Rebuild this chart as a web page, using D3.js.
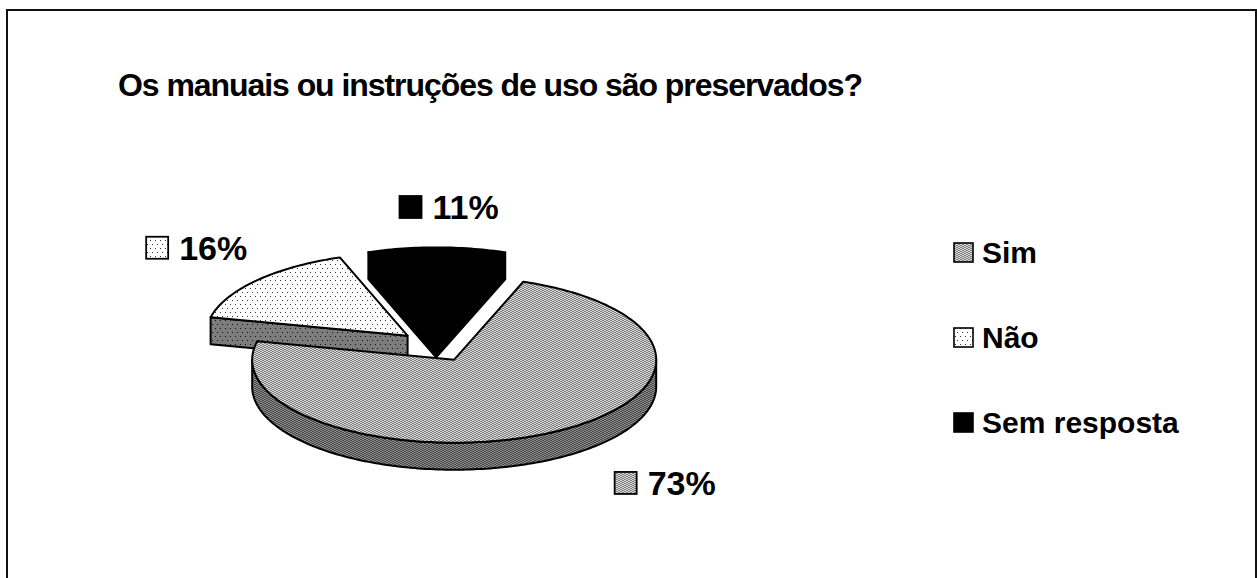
<!DOCTYPE html>
<html><head><meta charset="utf-8">
<script src="https://cdn.jsdelivr.net/npm/d3@7"></script>
<style>body{margin:0;background:#fff}svg{display:block}</style>
</head><body>
<svg id="c" width="1257" height="578"></svg>
<script>
// ---- data ----
const categories = ["Sim", "Não", "Sem resposta"];
const values = [73, 16, 11];
const pctLabels = ["73%", "16%", "11%"];
const titleText = "Os manuais ou instruções de uso são preservados?";

// ---- layout ----
const font = "'Liberation Sans', Arial, Helvetica, sans-serif";
const cx = 436, cy = 346, rx = 202, ry = 83, depth = 27, explode = 38;
const k = ry / rx;
const startDeg = 20;
const fills = [
  {top: "url(#simTop)", side: "url(#simSide)"},
  {top: "url(#naoTop)", side: "url(#naoSide)"},
  {top: "#000", side: "#000"}
];
const swatch = ["url(#simTop)", "url(#naoTop)", "#000"];
const labelRx = 320, labelRy = 148;
const labelNudge = [[76, 7], [0, 0], [12, 9]];

const svg = d3.select("#c");
const defs = svg.append("defs");

function pat(id, w, h, bg, cells, fg) {
  const p = defs.append("pattern").attr("id", id).attr("patternUnits", "userSpaceOnUse")
    .attr("width", w).attr("height", h);
  p.append("rect").attr("width", w).attr("height", h).attr("fill", bg);
  cells.forEach(c => p.append("rect").attr("x", c[0]).attr("y", c[1])
    .attr("width", c[2]).attr("height", c[3]).attr("fill", fg));
}
pat("simTop", 4, 2, "#808080", [[0,0,2,1],[2,1,2,1]], "#d6d6d6");
pat("simSide", 4, 2, "#474747", [[0,0,2,1],[2,1,2,1]], "#8c8c8c");
pat("naoTop", 10, 8, "#ffffff", [[0,0,1,1],[5,0,1,1],[2,4,1,1],[7,4,1,1]], "#333");
pat("naoSide", 10, 8, "#7c7c7c", [[0,0,1,1],[5,0,1,1],[2,4,1,1],[7,4,1,1]], "#111");

// border
svg.append("rect").attr("x", 7).attr("y", 10).attr("width", 1249).attr("height", 600)
  .attr("fill", "none").attr("stroke", "#111").attr("stroke-width", 2);

// title
const titleSize = 32;
const t = svg.append("text").attr("x", 118).attr("y", 96)
  .attr("font-family", font).attr("font-weight", "bold").attr("font-size", titleSize)
  .attr("fill", "#000").text(titleText);
const tl = t.node().getComputedTextLength();
t.attr("letter-spacing", (744 - tl) / titleText.length);

// pie
const pie = d3.pie().sort(null).value(d => d)
  .startAngle(startDeg * Math.PI / 180)
  .endAngle(startDeg * Math.PI / 180 + 2 * Math.PI);
const arcs = pie(values).map((a, i) => {
  const m = (a.startAngle + a.endAngle) / 2;
  const c = [cx + explode * Math.sin(m), cy - explode * k * Math.cos(m)];
  return Object.assign(a, {i, m, c});
});
const P = (c, a, r, dz) => [c[0] + r * Math.sin(a), c[1] - r * k * Math.cos(a) + dz];
const line = d3.line();
function arcPts(c, a0, a1, dz) {
  const n = Math.max(2, Math.ceil(Math.abs(a1 - a0) / 0.02));
  return d3.range(n + 1).map(j => P(c, a0 + (a1 - a0) * j / n, rx, dz));
}

const g = svg.append("g").attr("stroke", "#000").attr("stroke-width", 2)
  .attr("stroke-linejoin", "round");
const order = arcs.slice().sort((a, b) => a.c[1] - b.c[1]);
order.forEach(a => {
  const f = fills[a.i];
  const faces = [];
  if (Math.sin(a.startAngle) < 0) faces.push(a.startAngle);
  if (Math.sin(a.endAngle) > 0) faces.push(a.endAngle);
  faces.forEach(ang => {
    const pts = [P(a.c, ang, 0, 0), P(a.c, ang, rx, 0), P(a.c, ang, rx, depth), P(a.c, ang, 0, depth)];
    g.append("path").attr("d", line(pts) + "Z").attr("fill", f.side);
  });
  [0, 1].forEach(n => {
    const lo = Math.max(a.startAngle, Math.PI / 2 + 2 * Math.PI * n);
    const hi = Math.min(a.endAngle, 3 * Math.PI / 2 + 2 * Math.PI * n);
    if (hi > lo) {
      const pts = arcPts(a.c, lo, hi, 0).concat(arcPts(a.c, hi, lo, depth));
      g.append("path").attr("d", line(pts) + "Z").attr("fill", f.side);
    }
  });
  const top = [P(a.c, 0, 0, 0)].concat(arcPts(a.c, a.startAngle, a.endAngle, 0));
  g.append("path").attr("d", line(top) + "Z").attr("fill", f.top);
});

// data labels
const sq = 22, gap = 11, lblSize = 34;
arcs.forEach(a => {
  const lx = cx + labelRx * Math.sin(a.m) + labelNudge[a.i][0];
  const ly = cy - labelRy * Math.cos(a.m) + labelNudge[a.i][1];
  const lg = svg.append("g");
  const tx = lg.append("text").attr("font-family", font).attr("font-weight", "bold")
    .attr("font-size", lblSize).attr("fill", "#000").text(pctLabels[a.i]);
  const tw = tx.node().getComputedTextLength();
  const total = sq + gap + tw;
  const x0 = lx - total / 2;
  const base = ly + 12;
  lg.insert("rect", "text").attr("x", x0).attr("y", base - sq - 1).attr("width", sq).attr("height", sq)
    .attr("fill", swatch[a.i]).attr("stroke", "#000").attr("stroke-width", 1.8);
  tx.attr("x", x0 + sq + gap).attr("y", base);
});

// legend
const ly = d3.scalePoint().domain(categories).range([263, 433]);
const leg = svg.append("g");
categories.forEach((c, i) => {
  const y = ly(c);
  leg.append("rect").attr("x", 954).attr("y", y - 20).attr("width", 19).attr("height", 19)
    .attr("fill", swatch[i]).attr("stroke", "#000").attr("stroke-width", 1.6);
  leg.append("text").attr("x", 982).attr("y", y).attr("font-family", font)
    .attr("font-weight", "bold").attr("font-size", 30).attr("fill", "#000").text(c);
});
</script>
</body></html>
